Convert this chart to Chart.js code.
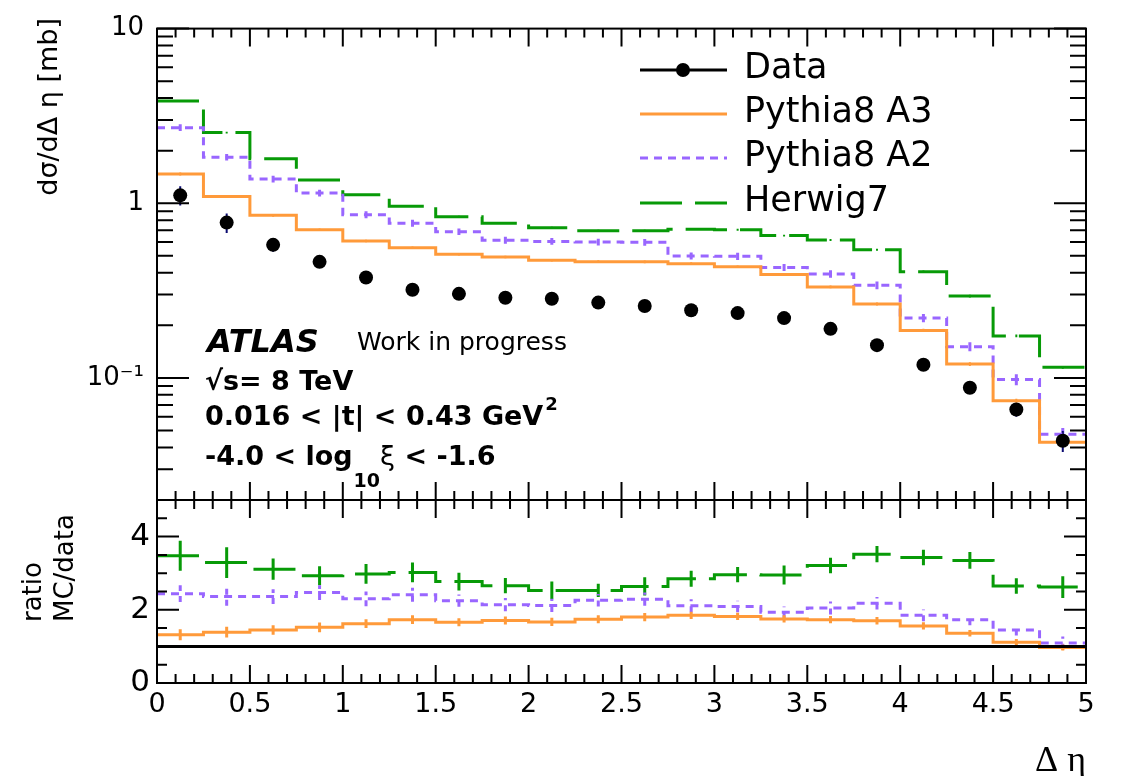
<!DOCTYPE html>
<html>
<head>
<meta charset="utf-8">
<script src="https://cdn.jsdelivr.net/npm/chart.js@4.4.1/dist/chart.umd.min.js"></script>
<style>
  html, body { margin: 0; padding: 0; background: #fff; }
  #wrap { position: relative; width: 1121px; height: 776px; }
  #wrap canvas { position: absolute; left: 0; top: 0; }
</style>
</head>
<body>
<div id="wrap">
  <canvas id="mainPad" width="1121" height="776"></canvas>
  <canvas id="ratioPad" width="1121" height="776"></canvas>
</div>
<script>
// --- data ---
const binEdges = [0, 0.25, 0.5, 0.75, 1, 1.25, 1.5, 1.75, 2, 2.25, 2.5, 2.75, 3, 3.25, 3.5, 3.75, 4, 4.25, 4.5, 4.75, 5];
const binCentres = [0.125, 0.375, 0.625, 0.875, 1.125, 1.375, 1.625, 1.875, 2.125, 2.375, 2.625, 2.875, 3.125, 3.375, 3.625, 3.875, 4.125, 4.375, 4.625, 4.875];
const seriesNames = ['Data', 'Pythia8 A3', 'Pythia8 A2', 'Herwig7'];

// dsigma/d(delta eta) [mb]
const dataVals = [1.11, 0.775, 0.578, 0.462, 0.376, 0.320, 0.303, 0.288, 0.284, 0.270, 0.258, 0.244, 0.235, 0.220, 0.191, 0.154, 0.119, 0.0879, 0.0659, 0.0437];
const dataErr = [0.14, 0.10, 0.05, 0.035, 0.025, 0.02, 0.018, 0.016, 0.015, 0.015, 0.014, 0.014, 0.013, 0.013, 0.012, 0.010, 0.009, 0.007, 0.006, 0.006];
const a3Vals = [1.47, 1.095, 0.853, 0.705, 0.609, 0.556, 0.510, 0.492, 0.472, 0.463, 0.462, 0.451, 0.433, 0.391, 0.332, 0.265, 0.187, 0.120, 0.074, 0.0428];
const a3Err = [0.03, 0.02, 0.015, 0.012, 0.01, 0.009, 0.008, 0.008, 0.008, 0.008, 0.008, 0.008, 0.007, 0.007, 0.006, 0.005, 0.004, 0.003, 0.002, 0.0015];
const a2Vals = [2.71, 1.836, 1.376, 1.143, 0.860, 0.769, 0.687, 0.615, 0.605, 0.600, 0.598, 0.499, 0.497, 0.429, 0.394, 0.339, 0.220, 0.151, 0.0978, 0.0476];
const a2Err = [0.12, 0.08, 0.06, 0.05, 0.04, 0.035, 0.03, 0.028, 0.027, 0.027, 0.027, 0.023, 0.023, 0.02, 0.019, 0.017, 0.012, 0.009, 0.007, 0.004];
const herwigVals = [3.85, 2.54, 1.797, 1.359, 1.119, 0.962, 0.838, 0.769, 0.724, 0.696, 0.696, 0.711, 0.705, 0.653, 0.617, 0.542, 0.406, 0.294, 0.174, 0.115];
const herwigErr = [0.05, 0.03, 0.02, 0.015, 0.012, 0.01, 0.009, 0.009, 0.009, 0.009, 0.009, 0.009, 0.009, 0.008, 0.008, 0.007, 0.006, 0.005, 0.003, 0.002];

// MC / data
const a3Ratio = [1.32, 1.39, 1.45, 1.52, 1.62, 1.73, 1.66, 1.71, 1.67, 1.74, 1.80, 1.85, 1.82, 1.75, 1.73, 1.70, 1.56, 1.36, 1.11, 0.97];
const a3RatioErr = [0.15, 0.15, 0.13, 0.13, 0.12, 0.12, 0.11, 0.11, 0.11, 0.11, 0.11, 0.10, 0.10, 0.10, 0.10, 0.10, 0.10, 0.09, 0.09, 0.08];
const a2Ratio = [2.44, 2.36, 2.36, 2.47, 2.30, 2.41, 2.25, 2.14, 2.12, 2.26, 2.29, 2.11, 2.09, 1.93, 2.05, 2.18, 1.85, 1.73, 1.45, 1.09];
const a2RatioErr = [0.23, 0.25, 0.20, 0.20, 0.20, 0.19, 0.17, 0.18, 0.18, 0.17, 0.18, 0.18, 0.16, 0.16, 0.18, 0.17, 0.16, 0.15, 0.15, 0.18];
const herwigRatio = [3.48, 3.29, 3.11, 2.93, 2.98, 3.02, 2.77, 2.66, 2.53, 2.53, 2.64, 2.85, 2.96, 2.95, 3.21, 3.52, 3.43, 3.35, 2.65, 2.62];
const herwigRatioErr = [0.41, 0.42, 0.29, 0.26, 0.27, 0.27, 0.24, 0.21, 0.24, 0.18, 0.25, 0.22, 0.21, 0.26, 0.21, 0.22, 0.21, 0.23, 0.21, 0.30];
const unityRatio = 1;

// tick labels
const xTickLabels = ['0', '0.5', '1', '1.5', '2', '2.5', '3', '3.5', '4', '4.5', '5'];
const logTickLabels = [[0.1, '10\u207B\u00B9'], [1, '1'], [10, '10']];
const ratioTickLabels = [[0, '0'], [2, '2'], [4, '4']];

// --- styles ---
const FONT = "'DejaVu Sans', sans-serif";
const colA3 = '#ff9a3a';
const colA2 = '#9966ff';
const colHerwig = '#079a07';
const dashA2 = [8, 6];
const dashHerwig = [42, 13];

const stepPoints = vals => {
    const pts = vals.map((v, i) => ({ x: binEdges[i], y: v }));
    pts.push({ x: binEdges[vals.length], y: vals[vals.length - 1] });
    return pts;
};
const stepSet = (label, vals, color, dash) => ({
    label, data: stepPoints(vals), borderColor: color, borderWidth: 3, borderDash: dash,
    stepped: 'before', pointRadius: 0, fill: false, tension: 0, borderJoinStyle: 'miter'
});

// inward ROOT style frame ticks
const drawFrame = (chart, yScaleId, yTicks, yMaj, yMin) => {
    const { ctx, chartArea: a } = chart;
    const xs = chart.scales.x, ys = chart.scales[yScaleId];
    ctx.save();
    ctx.strokeStyle = '#000';
    ctx.lineWidth = 2;
    ctx.setLineDash([]);
    ctx.strokeRect(a.left, a.top, a.right - a.left, a.bottom - a.top);
    ctx.beginPath();
    for (let i = 0; i <= 50; i++) {
        const px = xs.getPixelForValue(i / 10);
        const len = i % 5 === 0 ? 18 : 9;
        ctx.moveTo(px, a.bottom); ctx.lineTo(px, a.bottom - len);
        ctx.moveTo(px, a.top); ctx.lineTo(px, a.top + len);
    }
    yTicks.forEach(([v, major]) => {
        const py = ys.getPixelForValue(v);
        const len = major ? yMaj : yMin;
        ctx.moveTo(a.left, py); ctx.lineTo(a.left + len, py);
        ctx.moveTo(a.right, py); ctx.lineTo(a.right - len, py);
    });
    ctx.stroke();
    ctx.restore();
};

const errorBars = (id, yScaleId, sets) => ({
    id,
    beforeDatasetsDraw(chart) {
        const { ctx, chartArea: a } = chart;
        const xs = chart.scales.x, ys = chart.scales[yScaleId];
        ctx.save();
        ctx.beginPath();
        ctx.rect(a.left, a.top, a.right - a.left, a.bottom - a.top);
        ctx.clip();
        sets.forEach(s => {
            ctx.strokeStyle = s.color;
            ctx.lineWidth = s.width;
            ctx.setLineDash(s.dash || []);
            ctx.beginPath();
            s.vals.forEach((v, i) => {
                const px = xs.getPixelForValue(binCentres[i]);
                ctx.moveTo(px, ys.getPixelForValue(v - s.errs[i]));
                ctx.lineTo(px, ys.getPixelForValue(v + s.errs[i]));
            });
            ctx.stroke();
        });
        ctx.restore();
    }
});

const text = (ctx, str, x, y, font, align) => {
    ctx.font = font;
    ctx.textAlign = align || 'left';
    ctx.textBaseline = 'alphabetic';
    ctx.fillText(str, x, y);
    return ctx.measureText(str).width;
};

const logTicks = [];
for (let k = -2; k <= 1; k++) {
    for (let m = 1; m <= 9; m++) {
        const v = m * Math.pow(10, k);
        if (v >= 0.0199 && v <= 10.001) logTicks.push([v, m === 1]);
    }
}
const ratioTicks = [];
for (let i = 0; i <= 10; i++) ratioTicks.push([i / 2, i % 4 === 0]);

const labelFor = (list, v) => {
    const hit = list.find(([t]) => Math.abs(t - v) < 1e-6 * Math.max(1, t));
    return hit ? hit[1] : '';
};

// --- main pad ---
const mainDecor = {
    id: 'mainDecor',
    afterDraw(chart) {
        const ctx = chart.ctx;
        drawFrame(chart, 'y', logTicks, 32, 16);
        ctx.save();
        ctx.fillStyle = '#000';

        // y title
        ctx.save();
        ctx.translate(57, 18);
        ctx.rotate(-Math.PI / 2);
        text(ctx, 'd\u03C3/d\u0394 \u03B7 [mb]', 0, 0, `27px ${FONT}`, 'right');
        ctx.restore();

        // legend
        const rows = [
            { color: '#000', dash: [], marker: true },
            { color: colA3, dash: [] },
            { color: colA2, dash: dashA2 },
            { color: colHerwig, dash: dashHerwig }
        ];
        const rowY = [70, 114, 158, 203];
        rows.forEach((r, i) => {
            const y = rowY[i];
            ctx.strokeStyle = r.color;
            ctx.lineWidth = 3;
            ctx.setLineDash(r.dash);
            ctx.beginPath();
            ctx.moveTo(640, y); ctx.lineTo(727, y);
            ctx.stroke();
            ctx.setLineDash([]);
            if (r.marker) {
                ctx.beginPath();
                ctx.arc(683, y, 7, 0, Math.PI * 2);
                ctx.fill();
            }
            text(ctx, seriesNames[i], 744, y + 8, `35px ${FONT}`);
        });

        // labels
        const b27 = `bold 27px ${FONT}`;
        text(ctx, 'ATLAS', 207, 352, `italic bold 32px ${FONT}`);
        text(ctx, 'Work in progress', 357, 350, `25px ${FONT}`);
        text(ctx, '\u221As= 8 TeV', 205, 390, b27);
        let x = 205;
        x += text(ctx, '0.016 < |t| < 0.43 GeV', x, 425, b27);
        text(ctx, '2', x + 2, 410, `bold 18px ${FONT}`);
        x = 205;
        x += text(ctx, '-4.0 < log', x, 465, b27);
        x += text(ctx, '10', x + 1, 487, `bold 19px ${FONT}`) + 1;
        x += text(ctx, '\u03BE', x, 465, `27px ${FONT}`);
        text(ctx, ' < -1.6', x, 465, b27);
        ctx.restore();
    }
};

new Chart(document.getElementById('mainPad'), {
    type: 'line',
    data: {
        datasets: [
            {
                label: seriesNames[0],
                data: dataVals.map((v, i) => ({ x: binCentres[i], y: v })),
                showLine: false, pointRadius: 7, pointBorderWidth: 0,
                pointBackgroundColor: '#000', borderColor: '#000'
            },
            stepSet(seriesNames[1], a3Vals, colA3, []),
            stepSet(seriesNames[2], a2Vals, colA2, dashA2),
            stepSet(seriesNames[3], herwigVals, colHerwig, dashHerwig)
        ]
    },
    options: {
        responsive: false,
        animation: false,
        events: [],
        layout: { padding: { left: 0, right: 35, top: 19, bottom: 276 } },
        plugins: { legend: { display: false }, tooltip: { enabled: false } },
        scales: {
            x: { type: 'linear', min: 0, max: 5, display: false },
            y: {
                type: 'logarithmic', min: 0.02, max: 10,
                grid: { display: false, drawTicks: false },
                border: { display: false },
                afterFit: s => { s.width = 157; },
                ticks: {
                    autoSkip: false, padding: 13, color: '#000',
                    font: { family: FONT, size: 26 },
                    callback: v => labelFor(logTickLabels, v)
                }
            }
        }
    },
    plugins: [
        errorBars('mainErr', 'y', [
            { vals: herwigVals, errs: herwigErr, color: colHerwig, width: 2 },
            { vals: a2Vals, errs: a2Err, color: colA2, width: 3 },
            { vals: a3Vals, errs: a3Err, color: colA3, width: 2 },
            { vals: dataVals, errs: dataErr, color: '#0a0a70', width: 2 }
        ]),
        mainDecor
    ]
});

// --- ratio pad ---
const ratioDecor = {
    id: 'ratioDecor',
    afterDraw(chart) {
        const ctx = chart.ctx;
        drawFrame(chart, 'y', ratioTicks, 22, 10);
        ctx.save();
        ctx.fillStyle = '#000';
        ctx.save();
        ctx.translate(41, 622);
        ctx.rotate(-Math.PI / 2);
        text(ctx, 'ratio', 0, 0, `26px ${FONT}`);
        ctx.restore();
        ctx.save();
        ctx.translate(73, 622);
        ctx.rotate(-Math.PI / 2);
        text(ctx, 'MC/data', 0, 0, `26px ${FONT}`);
        ctx.restore();
        text(ctx, '\u0394 \u03B7', 1086, 771, "36px 'Liberation Serif', serif", 'right');
        ctx.restore();
    }
};

new Chart(document.getElementById('ratioPad'), {
    type: 'line',
    data: {
        datasets: [
            {
                label: 'unity',
                data: [{ x: binEdges[0], y: unityRatio }, { x: binEdges[binEdges.length - 1], y: unityRatio }],
                borderColor: '#000', borderWidth: 3, pointRadius: 0, fill: false
            },
            stepSet(seriesNames[1], a3Ratio, colA3, []),
            stepSet(seriesNames[2], a2Ratio, colA2, dashA2),
            stepSet(seriesNames[3], herwigRatio, colHerwig, dashHerwig)
        ]
    },
    options: {
        responsive: false,
        animation: false,
        events: [],
        layout: { padding: { left: 0, right: 35, top: 500, bottom: 0 } },
        plugins: { legend: { display: false }, tooltip: { enabled: false } },
        scales: {
            x: {
                type: 'linear', min: 0, max: 5,
                grid: { display: false, drawTicks: false },
                border: { display: false },
                afterFit: s => { s.height = 93; },
                ticks: {
                    stepSize: 0.5, autoSkip: false, maxRotation: 0, padding: 6, color: '#000',
                    font: { family: FONT, size: 27 },
                    callback: (v, i) => xTickLabels[i]
                }
            },
            y: {
                type: 'linear', min: 0, max: 5,
                grid: { display: false, drawTicks: false },
                border: { display: false },
                afterFit: s => { s.width = 157; },
                ticks: {
                    stepSize: 1, autoSkip: false, padding: 7, color: '#000',
                    font: { family: FONT, size: 31 },
                    callback: v => labelFor(ratioTickLabels, v)
                }
            }
        }
    },
    plugins: [
        errorBars('ratioErr', 'y', [
            { vals: herwigRatio, errs: herwigRatioErr, color: colHerwig, width: 3 },
            { vals: a2Ratio, errs: a2RatioErr, color: colA2, width: 3, dash: [6, 5] },
            { vals: a3Ratio, errs: a3RatioErr, color: colA3, width: 3 }
        ]),
        ratioDecor
    ]
});
</script>
</body>
</html>
